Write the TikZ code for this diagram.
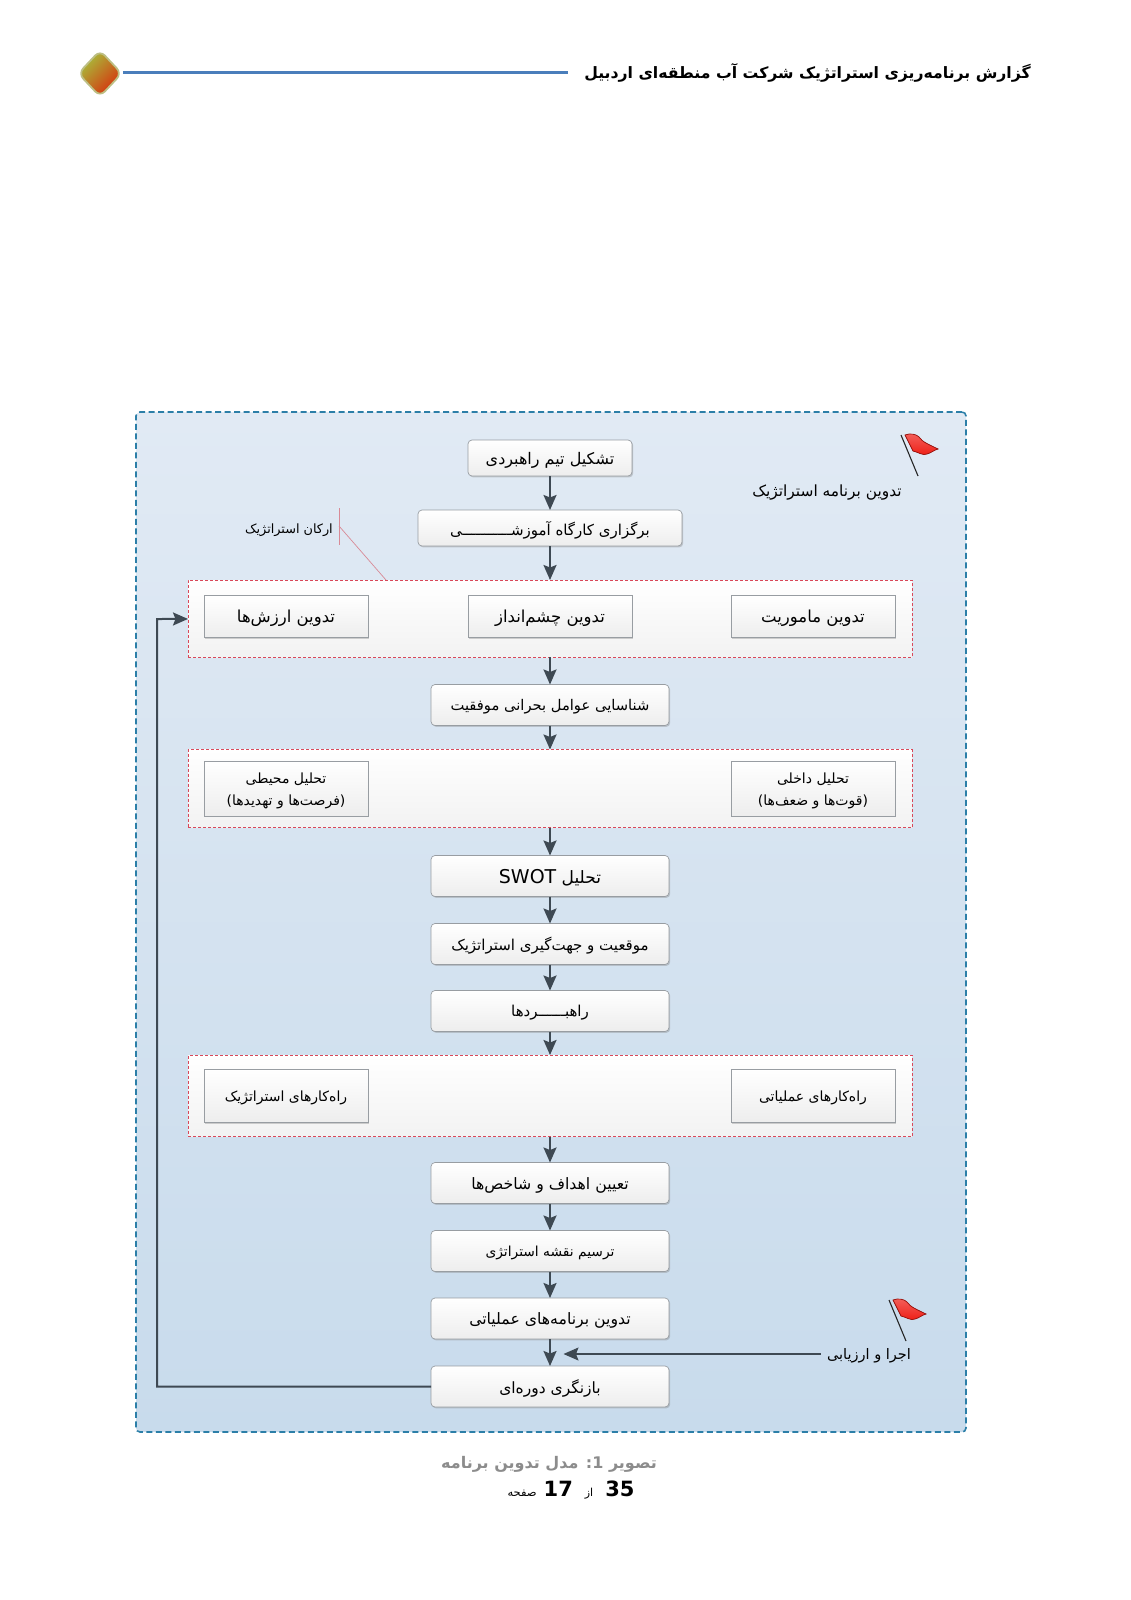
\documentclass[tikz,border=0pt]{standalone}
\usepackage{fontspec}
\setmainfont{DejaVu Sans}
\newfontfamily\arabicfont[Script=Arabic]{DejaVu Sans}
\TeXXeTstate=1
\usetikzlibrary{arrows.meta, positioning, shapes.geometric, shadows}
\definecolor{panelTop}{HTML}{E1EAF4}
\definecolor{panelBottom}{HTML}{C8DBEC}
\definecolor{panelEdge}{HTML}{2C7FA8}
\definecolor{groupEdge}{HTML}{D9485A}
\definecolor{boxEdge}{HTML}{989DA2}
\definecolor{flowDark}{HTML}{3E4953}
\definecolor{calloutPink}{HTML}{D88A96}
\definecolor{flagRed}{HTML}{EE1C14}
\definecolor{headerBlue}{HTML}{4A7EBB}
\definecolor{markGreen}{HTML}{A6C23C}
\definecolor{markRed}{HTML}{D92C0C}
\definecolor{markEdge}{HTML}{BDBF84}
\newcommand{\fa}[1]{\raisebox{-2pt}[\height][\depth]{\arabicfont\beginR #1\endR}}
\newcommand{\flagmark}[2]{
    \draw[flag_pole] (#1,#2) -- ++(17,41);
    \fill[top color=flagRed!70!white, bottom color=flagRed, draw=flagRed!65!black, line width=0.7pt]
      (#1+4,#2) .. controls (#1+9,#2-2) and (#1+15,#2-1) .. (#1+18,#2+2)
      .. controls (#1+21,#2+7) and (#1+29,#2+10) .. (#1+37,#2+14)
      .. controls (#1+33,#2+15) and (#1+30,#2+18) .. (#1+26,#2+19)
      .. controls (#1+22,#2+21) and (#1+17,#2+17) .. (#1+12,#2+16) -- cycle;
}
\tikzset{
    >=Latex,
    plan_panel/.style={
        rectangle,
        rounded corners=4pt,
        draw=panelEdge,
        top color=panelTop,
        bottom color=panelBottom,
        line width=1.6pt,
        dash pattern=on 6pt off 3.5pt,
        minimum width=830pt,
        minimum height=1020pt,
        outer sep=0pt
    },
    step_box/.style={
        rectangle,
        rounded corners=4pt,
        draw=boxEdge,
        top color=white,
        bottom color=black!7,
        drop shadow={shadow xshift=1.2pt, shadow yshift=-1.4pt, opacity=0.35},
        line width=0.7pt,
        minimum height=41pt,
        minimum width=238pt,
        inner sep=1pt,
        outer sep=0pt,
        align=center,
        font=\fontsize{15}{19}\selectfont
    },
    item_box/.style={
        step_box,
        rounded corners=0pt,
        minimum width=164pt,
        minimum height=42pt,
        font=\fontsize{16.5}{20}\selectfont
    },
    group_box/.style={
        rectangle,
        draw=groupEdge,
        top color=white,
        bottom color=black!5,
        line width=0.8pt,
        densely dashed,
        minimum width=724pt,
        outer sep=0pt
    },
    flow_arrow/.style={
        -{Stealth[length=15pt, width=13pt, inset=2.5pt]},
        draw=flowDark,
        line width=2pt
    },
    exec_arrow/.style={
        flow_arrow,
        line width=1.1pt,
        shorten <=5pt
    },
    callout_line/.style={
        draw=calloutPink,
        line width=0.7pt
    },
    flag_pole/.style={
        draw=black!85,
        line width=1.1pt
    },
    free_label/.style={
        inner sep=1pt,
        font=\fontsize{15.4}{19}\selectfont
    }
}

\begin{document}
\begin{tikzpicture}[x=1pt, y=-1pt]
\useasboundingbox (0,0) rectangle (1131,1600);

% Page header
\node[anchor=east, inner sep=0pt, font=\fontsize{15.7}{20}\selectfont\bfseries] (header_text) at (1031,71)
  {\fa{گزارش برنامه‌ریزی استراتژیک شرکت آب منطقه‌ای اردبیل}};
\coordinate (header_end) at (568,73);
\node[diamond, rounded corners=7pt, draw=markEdge, line width=1.8pt, minimum width=44pt, minimum height=47pt,
  inner sep=0pt, top color=markGreen, bottom color=markRed, shading angle=45] (header_mark) at (100,73.5) {};
\draw[draw=headerBlue, line width=3pt] (header_mark.east |- header_end) -- (header_end);

% Panel
\node[plan_panel] (panel) at (551,922) {};

% Top steps
\node[step_box, minimum width=164pt, minimum height=36pt, font=\fontsize{16}{20}\selectfont] (team) at (550,458) {\fa{تشکیل تیم راهبردی}};
\node[step_box, below=34pt of team, minimum width=264pt, minimum height=36pt] (workshop)
  {\fa{برگزاری کارگاه آموزشـــــــــــ‍ی}};

% Strategic pillars
\node[group_box, below=34pt of workshop, minimum height=77pt] (pillars) {};
\node[item_box, right=16pt of pillars.west, yshift=2pt] (values) {\fa{تدوین ارزش‌ها}};
\node[item_box, yshift=2pt] (vision) at (pillars.center) {\fa{تدوین چشم‌انداز}};
\node[item_box, left=17pt of pillars.east, yshift=2pt] (mission) {\fa{تدوین ماموریت}};

\node[step_box, below=27.5pt of pillars, font=\fontsize{14.7}{19}\selectfont] (csf) {\fa{شناسایی عوامل بحرانی موفقیت}};

% Analysis
\node[group_box, below=24pt of csf, minimum height=78pt] (analysis) {};
\node[item_box, right=16pt of analysis.west, minimum height=55pt, font=\fontsize{14}{22}\selectfont] (external)
  {\fa{تحلیل محیطی}\\\fa{(فرصت‌ها و تهدیدها)}};
\node[item_box, left=17pt of analysis.east, minimum height=55pt, font=\fontsize{14}{22}\selectfont] (internal)
  {\fa{تحلیل داخلی}\\\fa{(قوت‌ها و ضعف‌ها)}};

\node[step_box, below=28pt of analysis, font=\fontsize{17}{21}\selectfont] (swot) {\fa{تحلیل \beginL{\fontsize{19}{21}\selectfont SWOT}\endL}};
\node[step_box, below=27pt of swot] (position) {\fa{موقعیت و جهت‌گیری استراتژیک}};
\node[step_box, below=26pt of position] (strategies) {\fa{راهبـــــ‍ـردها}};

% Tactics
\node[group_box, below=23.5pt of strategies, minimum height=81.5pt] (tactics) {};
\node[item_box, right=16pt of tactics.west, minimum height=53pt, font=\fontsize{14}{17}\selectfont] (tact_strategic)
  {\fa{راه‌کارهای استراتژیک}};
\node[item_box, left=17pt of tactics.east, minimum height=53pt, font=\fontsize{14}{17}\selectfont] (tact_operational)
  {\fa{راه‌کارهای عملیاتی}};

% Lower steps
\node[step_box, below=26pt of tactics, font=\fontsize{15.7}{20}\selectfont] (goals) {\fa{تعیین اهداف و شاخص‌ها}};
\node[step_box, below=27pt of goals, font=\fontsize{13.8}{17}\selectfont] (stratmap) {\fa{ترسیم نقشه استراتژی}};
\node[step_box, below=26.5pt of stratmap, font=\fontsize{15.7}{20}\selectfont] (opplans) {\fa{تدوین برنامه‌های عملیاتی}};
\node[step_box, below=27pt of opplans, font=\fontsize{15.5}{20}\selectfont] (review) {\fa{بازنگری دوره‌ای}};

% Free labels
\node[free_label] (plan_label) at (827,491) {\fa{تدوین برنامه استراتژیک}};
\node[free_label, font=\fontsize{12.8}{15}\selectfont] (pillars_label) at (289,528) {\fa{ارکان استراتژیک}};
\node[free_label, font=\fontsize{14.5}{18}\selectfont] (exec_label) at (869,1354) {\fa{اجرا و ارزیابی}};

% Flags
\flagmark{901}{435}
\flagmark{889}{1300}

% Callout
\coordinate (callout_top) at (339,508);
\coordinate (callout_bottom) at (339,545);
\coordinate (callout_mid) at (339,526);
\coordinate (callout_end) at (386,580);
\draw[callout_line] (callout_top) -- (callout_bottom);
\draw[callout_line] (callout_mid) -- (callout_end);

% Edges
\draw[flow_arrow] (team) -- (workshop);
\draw[flow_arrow] (workshop) -- (pillars);
\draw[flow_arrow] (pillars) -- (csf);
\draw[flow_arrow] (csf) -- (analysis);
\draw[flow_arrow] (analysis) -- (swot);
\draw[flow_arrow] (swot) -- (position);
\draw[flow_arrow] (position) -- (strategies);
\draw[flow_arrow] (strategies) -- (tactics);
\draw[flow_arrow] (tactics) -- (goals);
\draw[flow_arrow] (goals) -- (stratmap);
\draw[flow_arrow] (stratmap) -- (opplans);
\draw[flow_arrow] (opplans) -- (review);

\coordinate (exec_tip) at (563.5,1354);
\draw[exec_arrow] (exec_label) -- (exec_tip);

\coordinate (loop_corner) at (157,619);
\draw[flow_arrow] (review) -| (loop_corner) -- (pillars);

% Caption
\node[text=black!45, font=\fontsize{16}{20}\selectfont\bfseries] (caption) at (549,1462)
  {\fa{تصویر 1: مدل تدوین برنامه}};
\node[below=5.5pt of caption, xshift=22pt, inner sep=0pt] (pagenum) {\fa{{\fontsize{21}{23}\selectfont\bfseries 35}\hspace{12pt}{\fontsize{11}{14}\selectfont از}\hspace{12pt}{\fontsize{21}{23}\selectfont\bfseries 17}\hspace{7pt}{\fontsize{11.5}{14}\selectfont صفحه}}};

\end{tikzpicture}
\end{document}
